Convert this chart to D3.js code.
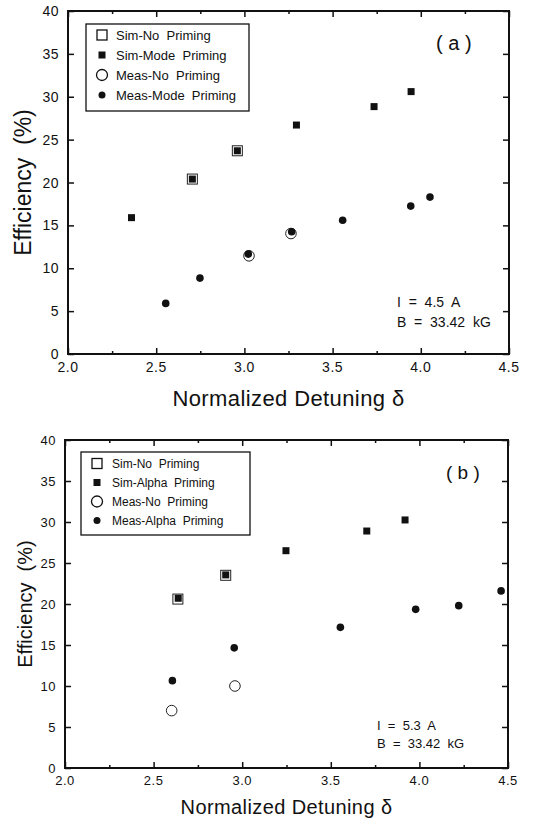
<!DOCTYPE html>
<html>
<head>
<meta charset="utf-8">
<script src="https://cdn.jsdelivr.net/npm/d3@7"></script>
<style>
  body { margin: 0; background: #fff; }
  svg { display: block; font-family: "Liberation Sans", Arial, sans-serif; }
</style>
</head>
<body>
<svg id="chart" width="544" height="820"></svg>
<script>
// ---- data, panel (a): I = 4.5 A ----
const aSimNo = [[2.705, 20.4], [2.96, 23.7]];
const aSimMode = [[2.36, 15.9], [2.705, 20.4], [2.96, 23.7], [3.295, 26.7], [3.735, 28.85], [3.945, 30.6]];
const aMeasNo = [[3.026, 11.45], [3.264, 14.05]];
const aMeasMode = [[2.554, 5.9], [2.748, 8.85], [3.022, 11.65], [3.268, 14.25], [3.557, 15.6], [3.943, 17.25], [4.052, 18.3]];
const aLegend = ["Sim-No  Priming", "Sim-Mode  Priming", "Meas-No  Priming", "Meas-Mode  Priming"];

// ---- data, panel (b): I = 5.3 A ----
const bSimNo = [[2.637, 20.6], [2.907, 23.5]];
const bSimAlpha = [[2.639, 20.7], [2.907, 23.55], [3.247, 26.5], [3.703, 28.9], [3.919, 30.25]];
const bMeasNo = [[2.602, 7.0], [2.959, 10.0]];
const bMeasAlpha = [[2.606, 10.65], [2.955, 14.65], [3.554, 17.15], [3.979, 19.35], [4.222, 19.8], [4.461, 21.6]];
const bLegend = ["Sim-No  Priming", "Sim-Alpha  Priming", "Meas-No  Priming", "Meas-Alpha  Priming"];

const xTicks = [2.0, 2.5, 3.0, 3.5, 4.0, 4.5];
const yTicks = [0, 5, 10, 15, 20, 25, 30, 35, 40];

const svg = d3.select("#chart");

function drawPanel(p) {
  const x = d3.scaleLinear().domain([2, 4.5]).range([p.left, p.right]);
  const y = d3.scaleLinear().domain([0, 40]).range([p.bottom, p.top]);
  const g = svg.append("g");
  const w = p.right - p.left, h = p.bottom - p.top;

  // inward ticks on all four sides
  const minorX = d3.range(2.25, 4.5, 0.5);
  g.append("g").attr("transform", `translate(0,${p.bottom})`)
    .call(d3.axisTop(x).tickValues(xTicks).tickSize(6).tickFormat(""))
    .call(a => a.select(".domain").remove());
  g.append("g").attr("transform", `translate(0,${p.bottom})`)
    .call(d3.axisTop(x).tickValues(minorX).tickSize(3).tickFormat(""))
    .call(a => a.select(".domain").remove());
  g.append("g").attr("transform", `translate(0,${p.top})`)
    .call(d3.axisBottom(x).tickValues(xTicks).tickSize(6).tickFormat(""))
    .call(a => a.select(".domain").remove());
  g.append("g").attr("transform", `translate(0,${p.top})`)
    .call(d3.axisBottom(x).tickValues(minorX).tickSize(3).tickFormat(""))
    .call(a => a.select(".domain").remove());
  g.append("g").attr("transform", `translate(${p.left},0)`)
    .call(d3.axisRight(y).tickValues(yTicks).tickSize(6).tickFormat(""))
    .call(a => a.select(".domain").remove());
  g.append("g").attr("transform", `translate(${p.right},0)`)
    .call(d3.axisLeft(y).tickValues(yTicks).tickSize(6).tickFormat(""))
    .call(a => a.select(".domain").remove());
  g.selectAll(".tick line").attr("stroke", "#111").attr("stroke-width", 1.5);

  // tick labels
  g.append("g").selectAll("text").data(xTicks).join("text")
    .attr("x", d => x(d)).attr("y", p.bottom + p.tickFont + 4)
    .attr("text-anchor", "middle").attr("font-size", p.tickFont).attr("fill", "#111")
    .attr("letter-spacing", 0.5)
    .text(d => d.toFixed(1));
  g.append("g").selectAll("text").data(yTicks).join("text")
    .attr("x", p.left - 9).attr("y", d => y(d)).attr("dy", "0.36em")
    .attr("text-anchor", "end").attr("font-size", p.tickFont).attr("fill", "#111")
    .attr("letter-spacing", 0.5)
    .text(d => d);

  // frame
  g.append("rect").attr("x", p.left).attr("y", p.top).attr("width", w).attr("height", h)
    .attr("fill", "none").attr("stroke", "#111").attr("stroke-width", 2);

  // axis titles
  g.append("text").attr("x", (p.left + p.right) / 2).attr("y", p.xTitleY)
    .attr("text-anchor", "middle").attr("font-size", p.titleFont).attr("fill", "#111")
    .attr("letter-spacing", 0.4)
    .text("Normalized Detuning δ");
  g.append("text")
    .attr("transform", `translate(${p.yTitleX},${(p.top + p.bottom) / 2}) rotate(-90)`)
    .attr("text-anchor", "middle").attr("font-size", p.yTitleFont).attr("fill", "#111")
    .attr("xml:space", "preserve")
    .text("Efficiency  (%)");

  // series
  const s = p.series;
  g.append("g").selectAll("rect").data(s.simNo).join("rect")
    .attr("x", d => x(d[0]) - 5).attr("y", d => y(d[1]) - 5)
    .attr("width", 10).attr("height", 10)
    .attr("fill", "#fff").attr("stroke", "#222").attr("stroke-width", 1);
  g.append("g").selectAll("circle").data(s.measNo).join("circle")
    .attr("cx", d => x(d[0])).attr("cy", d => y(d[1])).attr("r", 5.3)
    .attr("fill", "#fff").attr("stroke", "#222").attr("stroke-width", 1);
  g.append("g").selectAll("rect").data(s.simPrime).join("rect")
    .attr("x", d => x(d[0]) - 3.5).attr("y", d => y(d[1]) - 3.5)
    .attr("width", 7).attr("height", 7).attr("fill", "#111");
  g.append("g").selectAll("circle").data(s.measPrime).join("circle")
    .attr("cx", d => x(d[0])).attr("cy", d => y(d[1])).attr("r", 3.8)
    .attr("fill", "#111");

  // legend
  const L = p.legend;
  const lg = g.append("g");
  lg.append("rect").attr("x", L.x).attr("y", L.y).attr("width", L.w).attr("height", L.h)
    .attr("fill", "#fff").attr("stroke", "#111").attr("stroke-width", 1.3);
  const sx = L.x + 16;
  p.legendLabels.forEach((lab, i) => {
    const cy = L.y + L.first + i * L.step;
    if (i === 0) lg.append("rect").attr("x", sx - 5).attr("y", cy - 5).attr("width", 10).attr("height", 10)
      .attr("fill", "#fff").attr("stroke", "#111").attr("stroke-width", 1.3);
    if (i === 1) lg.append("rect").attr("x", sx - 3.5).attr("y", cy - 3.5).attr("width", 7).attr("height", 7)
      .attr("fill", "#111");
    if (i === 2) lg.append("circle").attr("cx", sx).attr("cy", cy).attr("r", 5.5)
      .attr("fill", "#fff").attr("stroke", "#111").attr("stroke-width", 1.3);
    if (i === 3) lg.append("circle").attr("cx", sx).attr("cy", cy).attr("r", 3.5).attr("fill", "#111");
    lg.append("text").attr("x", L.x + L.textX).attr("y", cy).attr("dy", "0.36em")
      .attr("font-size", L.font).attr("fill", "#111").attr("xml:space", "preserve").text(lab);
  });

  // panel tag and conditions
  g.append("text").attr("x", p.tag.x).attr("y", p.tag.y).attr("dy", "0.36em")
    .attr("font-size", p.tag.font).attr("fill", "#111").attr("xml:space", "preserve").text(p.tag.text);
  p.notes.forEach((t, i) => {
    g.append("text").attr("x", p.noteX).attr("y", p.noteY + i * p.noteStep).attr("dy", "0.36em")
      .attr("font-size", p.noteFont).attr("fill", "#111").attr("xml:space", "preserve").text(t);
  });
}

drawPanel({
  left: 68, right: 509, top: 11, bottom: 354,
  tickFont: 14, titleFont: 22, yTitleFont: 23, xTitleY: 406, yTitleX: 31,
  series: { simNo: aSimNo, simPrime: aSimMode, measNo: aMeasNo, measPrime: aMeasMode },
  legend: { x: 86, y: 24, w: 163, h: 87, first: 11, step: 20, textX: 30, font: 13 },
  legendLabels: aLegend,
  tag: { x: 436, y: 43, font: 20, text: "( a )" },
  notes: ["I  =  4.5  A", "B  =  33.42  kG"], noteX: 397, noteY: 302, noteStep: 19.5, noteFont: 14
});

drawPanel({
  left: 65, right: 508, top: 440, bottom: 768,
  tickFont: 13, titleFont: 20, yTitleFont: 20, xTitleY: 814, yTitleX: 32,
  series: { simNo: bSimNo, simPrime: bSimAlpha, measNo: bMeasNo, measPrime: bMeasAlpha },
  legend: { x: 81, y: 452, w: 169, h: 83, first: 11.5, step: 19, textX: 31, font: 12 },
  legendLabels: bLegend,
  tag: { x: 446, y: 472, font: 19, text: "( b )" },
  notes: ["I  =  5.3  A", "B  =  33.42  kG"], noteX: 377, noteY: 725, noteStep: 18, noteFont: 13
});
</script>
</body>
</html>
